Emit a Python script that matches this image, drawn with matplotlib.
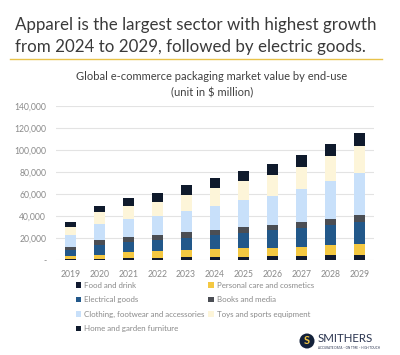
import matplotlib
matplotlib.use("Agg")
import matplotlib.pyplot as plt
from matplotlib.patches import Patch, Ellipse
import numpy as np

years = ["2019", "2020", "2021", "2022", "2023", "2024", "2025", "2026", "2027", "2028", "2029"]
food = [500, 700, 1500, 1800, 2400, 2700, 3000, 3300, 3600, 4200, 4500]
personal = [2800, 3800, 5800, 6400, 7000, 7200, 7600, 7900, 8500, 9100, 9700]
electrical = [6100, 8800, 9300, 9900, 10800, 12500, 13900, 15700, 16600, 18700, 20500]
books = [2700, 4500, 4200, 4600, 4900, 4800, 5400, 4800, 5700, 5500, 5800]
clothing = [10300, 14500, 16100, 17500, 19600, 22000, 24500, 26900, 30300, 34100, 39000]
toys = [7800, 11200, 12100, 12700, 14800, 16700, 17500, 19000, 20200, 23000, 24100]
home = [4200, 5500, 7200, 8100, 8800, 8700, 9400, 9700, 10300, 10800, 12100]

series_names = ["Food and drink", "Personal care and cosmetics", "Electrical goods",
                "Books and media", "Clothing, footwear and accessories",
                "Toys and sports equipment", "Home and garden furniture"]
series_vals = [food, personal, electrical, books, clothing, toys, home]
colors = ["#101a30", "#f4c842", "#22588a", "#4b4e54", "#c8e0fa", "#fdf5d9", "#0f1a2c"]

title_lines = ["Apparel is the largest sector with highest growth",
               "from 2024 to 2029, followed by electric goods."]
chart_title_lines = ["Global e-commerce packaging market value by end-use",
                     "(unit in $ million)"]
yticks = [0, 20000, 40000, 60000, 80000, 100000, 120000, 140000]
ytick_labels = ["-", "20,000", "40,000", "60,000", "80,000", "100,000", "120,000", "140,000"]

W, H = 400, 355
fig = plt.figure(figsize=(W / 100, H / 100), dpi=100)
fig.patch.set_facecolor("white")

fam = ["Lato", "DejaVu Sans"]

for i, line in enumerate(title_lines):
    fig.text(15 / W, 1 - (30 + 22 * i) / H, line, fontsize=12.2, family=fam,
             color="#3a3a3a", va="baseline", ha="left")
fig.add_artist(plt.Line2D([10 / W, 382 / W], [1 - 59 / H, 1 - 59 / H],
                          color="#e8c24a", lw=1.0))
for i, line in enumerate(chart_title_lines):
    fig.text(212 / W, 1 - (76 + 17 * i) / H, line, fontsize=8.0, family=fam,
             color="#404040", ha="center", va="center")

left, right = 56, 374
bottom, top = 260, 106
ax = fig.add_axes([left / W, 1 - bottom / H, (right - left) / W, (bottom - top) / H])
x = np.arange(len(years))
base = np.zeros(len(years))
handles = []
for name, vals, c in zip(series_names, series_vals, colors):
    ax.bar(x, vals, bottom=base, width=0.38, color=c, edgecolor="none", zorder=3)
    base += np.array(vals)
    handles.append(Patch(facecolor=c, label=name))

ax.set_xlim(-0.5, len(years) - 0.5)
ax.set_ylim(0, 140000)
ax.set_yticks(yticks)
ax.set_yticklabels(ytick_labels)
ax.set_xticks(x)
ax.set_xticklabels(years)
ax.yaxis.grid(True, color="#e3e3e3", lw=0.8, zorder=0)
for s in ax.spines.values():
    s.set_visible(False)
ax.tick_params(length=0, labelsize=6.2, colors="#8a8a8a", pad=7)
for lab in ax.get_xticklabels() + ax.get_yticklabels():
    lab.set_family(fam)

order = [0, 2, 4, 6, 1, 3, 5]
leg = fig.legend([handles[i] for i in order], [series_names[i] for i in order],
                 ncol=2, loc="upper left", bbox_to_anchor=(74 / W, 1 - 280 / H),
                 frameon=False, handlelength=0.7, handleheight=0.7,
                 handletextpad=0.4, columnspacing=0.45, labelspacing=0.95,
                 borderaxespad=0, borderpad=0.2,
                 prop={"family": fam, "size": 5.7})
for t in leg.get_texts():
    t.set_color("#8a8a8a")

# logo
fig.add_artist(Ellipse((307 / W, 1 - 341 / H), 15 / W, 15 / H, transform=fig.transFigure,
                       facecolor="#13213a", edgecolor="none"))
fig.text(307 / W, 1 - 341 / H, "S", fontsize=8, color="#f4c842", fontweight="bold",
         ha="center", va="center", family=fam)
fig.text(318 / W, 1 - 339 / H, "SMITHERS", fontsize=8.3, color="#2b3550",
         ha="left", va="center", family=fam)
fig.text(318 / W, 1 - 348 / H, "ACCURATE DATA \u2013 ON TIME \u2013 HIGH TOUCH",
         fontsize=2.2, color="#2b3550", ha="left", va="center", family=fam)

fig.savefig("out.png", dpi=100, facecolor="white")
